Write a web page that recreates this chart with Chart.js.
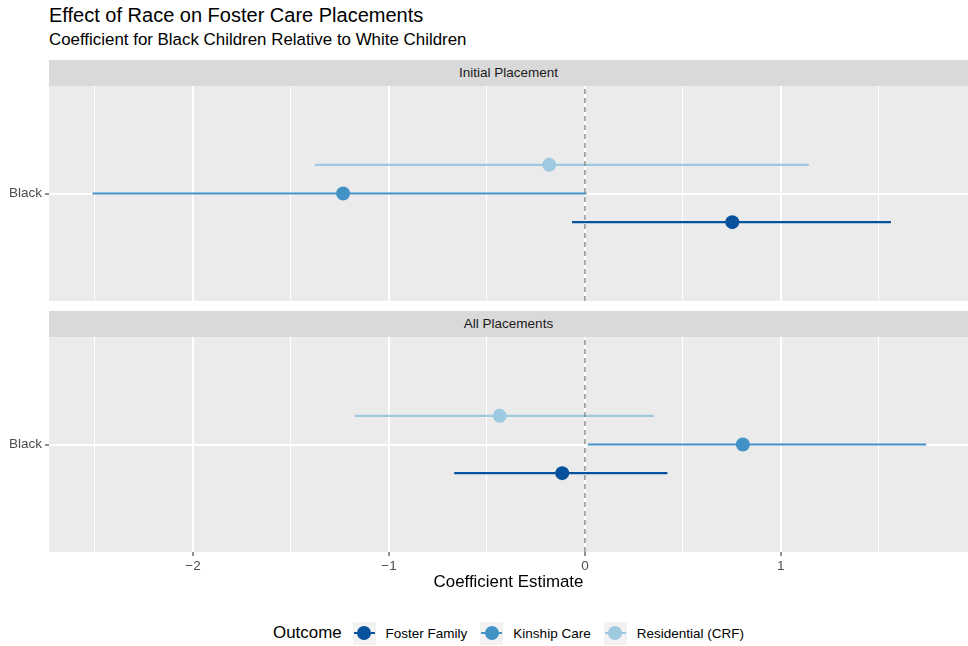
<!DOCTYPE html>
<html>
<head>
<meta charset="utf-8">
<script src="https://cdn.jsdelivr.net/npm/chart.js@4.4.1/dist/chart.umd.min.js"></script>
<style>
body { margin: 0; background: #fff; font-family: 'Liberation Sans', Arial, Helvetica, sans-serif; }
#wrap { position: relative; width: 968px; height: 646px; overflow: hidden; }
.abs { position: absolute; white-space: nowrap; }
#title { left: 49px; top: 3px; font-size: 20px; color: #000; line-height: 24px; }
#subtitle { left: 49px; top: 30px; font-size: 16.9px; color: #000; line-height: 20px; }
.strip { left: 49px; width: 919px; height: 26px; background: #d9d9d9; color: #1a1a1a;
  font-size: 13.5px; line-height: 26px; text-align: center; }
canvas { position: absolute; left: 0; }
#xtitle { left: 49px; width: 919px; top: 572px; text-align: center; font-size: 16.9px; line-height: 20px; color: #000; }
#legend { left: 49px; width: 919px; top: 621px; height: 24px; display: flex; justify-content: center; align-items: center; }
#legend .lt { font-size: 16.9px; margin-right: 11px; }
#legend .key { position: relative; width: 23px; height: 23px; background: #f2f2f2; }
#legend .key .ln { position: absolute; left: 1px; right: 1px; top: 10.5px; height: 2px; }
#legend .key .dot { position: absolute; left: 4.5px; top: 4.5px; width: 14px; height: 14px; border-radius: 50%; }
#legend .lb { font-size: 13.5px; color: #000; margin-left: 10px; margin-right: 13px; }
#legend .lb:last-child { margin-right: 0; }
</style>
</head>
<body>
<div id="wrap">
  <div id="title" class="abs">Effect of Race on Foster Care Placements</div>
  <div id="subtitle" class="abs">Coefficient for Black Children Relative to White Children</div>
  <div class="abs strip" style="top:60px">Initial Placement</div>
  <canvas id="c1" width="968" height="215" style="top:86px"></canvas>
  <div class="abs strip" style="top:311px">All Placements</div>
  <canvas id="c2" width="968" height="245" style="top:337px"></canvas>
  <div id="xtitle" class="abs">Coefficient Estimate</div>
  <div id="legend" class="abs"></div>
</div>
<script>
// data
var outcomes = ['Foster Family', 'Kinship Care', 'Residential (CRF)'];
var category = 'Black';

var initialEst  = [0.752, -1.234, -0.182];
var initialLow  = [-0.066, -2.513, -1.378];
var initialHigh = [1.562, 0.008, 1.143];

var allEst  = [-0.116, 0.806, -0.435];
var allLow  = [-0.667, 0.015, -1.175];
var allHigh = [0.421, 1.741, 0.352];

var xTicks = [-2.5, -2, -1.5, -1, -0.5, 0, 0.5, 1, 1.5];

var colors = ['#08519c', '#4292c6', '#9ecae1'];
var dodge = [-0.16, 0, 0.16];
var tickFont = { family: "'Liberation Sans', Arial, sans-serif", size: 13.5 };

var bgPlugin = {
    id: 'panelBg',
    beforeDraw: function(chart) {
        var a = chart.chartArea;
        var ctx = chart.ctx;
        ctx.save();
        ctx.fillStyle = '#ebebeb';
        ctx.fillRect(a.left, a.top, a.right - a.left, a.bottom - a.top);
        ctx.restore();
    }
};

function isMajor(v) {
    return Math.abs(v - Math.round(v)) < 1e-9;
}

function noPad(s) {
    s.paddingTop = 0;
    s.paddingBottom = 0;
    s.paddingLeft = 0;
    s.paddingRight = 0;
}

function makePanel(id, est, low, high, showX) {
    var datasets = [];
    for (var i = 0; i < outcomes.length; i++) {
        var y = 1 + dodge[i];
        datasets.push({
            label: outcomes[i] + ' range',
            data: [{x: low[i], y: y}, {x: high[i], y: y}],
            showLine: true,
            borderColor: colors[i],
            borderWidth: 2.2,
            pointRadius: 0,
            order: 3
        });
        datasets.push({
            label: outcomes[i],
            data: [{x: est[i], y: y}],
            pointRadius: 7,
            pointHoverRadius: 7,
            backgroundColor: colors[i],
            borderWidth: 0,
            order: 1
        });
    }
    datasets.push({
        label: 'zero',
        data: [{x: 0, y: 0.4}, {x: 0, y: 1.6}],
        showLine: true,
        borderColor: '#7f7f7f',
        borderWidth: 1.3,
        borderDash: [5, 4],
        pointRadius: 0,
        order: 2
    });

    return new Chart(document.getElementById(id), {
        type: 'scatter',
        data: { datasets: datasets },
        plugins: [bgPlugin],
        options: {
            responsive: false,
            animation: false,
            layout: { padding: 0, autoPadding: false },
            plugins: { legend: { display: false }, tooltip: { enabled: false } },
            scales: {
                x: {
                    type: 'linear',
                    min: -2.735,
                    max: 1.955,
                    afterBuildTicks: function(s) {
                        s.ticks = xTicks.map(function(v) { return {value: v}; });
                    },
                    afterFit: function(s) { s.height = showX ? 30 : 0; noPad(s); },
                    border: { display: false },
                    grid: {
                        color: '#ffffff',
                        lineWidth: function(c) { return c.tick && isMajor(c.tick.value) ? 2 : 1.1; },
                        drawTicks: showX,
                        tickLength: 4,
                        tickWidth: 1.1,
                        tickColor: function(c) { return c.tick && isMajor(c.tick.value) ? '#333333' : 'rgba(0,0,0,0)'; }
                    },
                    ticks: {
                        display: showX,
                        autoSkip: false,
                        maxRotation: 0,
                        padding: 2,
                        color: '#4d4d4d',
                        font: tickFont,
                        callback: function(v) {
                            if (!isMajor(v)) return '';
                            return v < 0 ? '\u2212' + Math.abs(v) : String(v);
                        }
                    }
                },
                y: {
                    type: 'linear',
                    min: 0.4,
                    max: 1.6,
                    afterBuildTicks: function(s) { s.ticks = [{value: 1}]; },
                    afterFit: function(s) { s.width = 49; noPad(s); },
                    border: { display: false },
                    grid: {
                        color: '#ffffff',
                        lineWidth: 2,
                        tickLength: 4,
                        tickWidth: 1.1,
                        tickColor: '#333333'
                    },
                    ticks: {
                        padding: 3,
                        color: '#4d4d4d',
                        font: tickFont,
                        callback: function() { return category; }
                    }
                }
            }
        }
    });
}

makePanel('c1', initialEst, initialLow, initialHigh, false);
makePanel('c2', allEst, allLow, allHigh, true);

// legend
var leg = document.getElementById('legend');
var html = '<span class="lt">Outcome</span>';
for (var i = 0; i < outcomes.length; i++) {
    html += '<span class="key"><i class="ln" style="background:' + colors[i] + '"></i>' +
            '<i class="dot" style="background:' + colors[i] + '"></i></span>' +
            '<span class="lb">' + outcomes[i] + '</span>';
}
leg.innerHTML = html;
</script>
</body>
</html>
